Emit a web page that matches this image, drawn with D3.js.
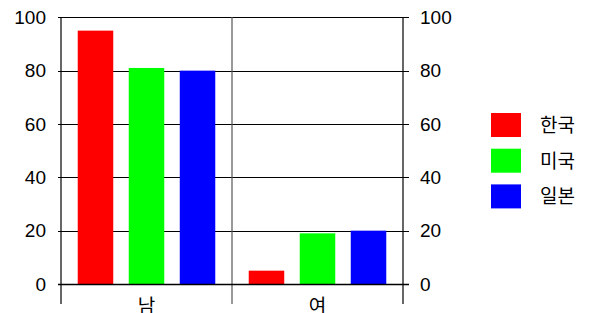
<html>
<head>
  <script src="https://d3js.org/d3.v7.min.js"></script>
  <meta charset="utf-8">
<style>
body { margin: 0; background: #fff; }
svg { background: #fff; font-family: "Liberation Sans", "Noto Sans CJK KR", sans-serif; }
</style>
</head>
<body>
<script>
var width = 596,
    height = 313;

// data
var categories = ['남', '여'];
var seriesNames = ['한국', '미국', '일본'];
var seriesColors = ['#ff0000', '#00ff00', '#0000ff'];
var korea = [95, 5];
var usa = [81, 19];
var japan = [80, 20];
var yTicks = [0, 20, 40, 60, 80, 100];

var values = [korea, usa, japan];

// plot edges (note: "top" is reserved on window)
var plotLeft = 61, plotRight = 403, plotTop = 17.3, plotBottom = 284;

var svg = d3.select('body').append('svg')
  .attr('width', width)
  .attr('height', height);

var x = d3.scaleBand().domain(categories).range([plotLeft, plotRight]);
var xs = d3.scaleBand().domain(seriesNames).range([0, x.bandwidth()])
  .paddingInner(0.304).paddingOuter(0.328);
var y = d3.scaleLinear().domain([0, 100]).range([plotBottom, plotTop]);

// horizontal grid lines with short ticks on both sides
svg.selectAll('line.grid')
  .data(yTicks)
  .enter().append('line')
  .attr('class', 'grid')
  .attr('x1', plotLeft - 3)
  .attr('x2', plotRight + 6)
  .attr('y1', function (d) { return Math.round(y(d)) + 0.5; })
  .attr('y2', function (d) { return Math.round(y(d)) + 0.5; })
  .style('stroke', '#000')
  .style('stroke-width', 1.2);

// vertical lines: left axis, separators
var vlines = [plotLeft, x('여'), plotRight];
svg.selectAll('line.v')
  .data(vlines)
  .enter().append('line')
  .attr('class', 'v')
  .attr('x1', function (d) { return d; })
  .attr('x2', function (d) { return d; })
  .attr('y1', Math.round(plotTop))
  .attr('y2', 304)
  .style('stroke', function (d, i) { return i === 1 ? '#555' : '#000'; })
  .style('stroke-width', 1.2);

// bars
var bars = [];
categories.forEach(function (c, ci) {
  seriesNames.forEach(function (s, si) {
    bars.push({ cat: c, series: s, value: values[si][ci], color: seriesColors[si] });
  });
});

svg.selectAll('rect.bar')
  .data(bars)
  .enter().append('rect')
  .attr('class', 'bar')
  .attr('x', function (d) { return x(d.cat) + xs(d.series); })
  .attr('width', xs.bandwidth())
  .attr('y', function (d) { return y(d.value); })
  .attr('height', function (d) { return y(0) - y(d.value); })
  .style('fill', function (d) { return d.color; });

// redraw the zero line on top
svg.append('line')
  .attr('x1', plotLeft - 3).attr('x2', plotRight + 6)
  .attr('y1', Math.round(y(0)) + 0.5).attr('y2', Math.round(y(0)) + 0.5)
  .style('stroke', '#000').style('stroke-width', 1.5);

// tick labels
svg.selectAll('text.yl')
  .data(yTicks)
  .enter().append('text')
  .attr('class', 'yl')
  .attr('x', 46)
  .attr('y', function (d) { return y(d); })
  .attr('dy', '0.35em')
  .attr('text-anchor', 'end')
  .style('font-size', '19px')
  .text(function (d) { return d; });

svg.selectAll('text.yr')
  .data(yTicks)
  .enter().append('text')
  .attr('class', 'yr')
  .attr('x', 420)
  .attr('y', function (d) { return y(d); })
  .attr('dy', '0.35em')
  .style('font-size', '19px')
  .text(function (d) { return d; });

// category labels
svg.selectAll('text.cat')
  .data(categories)
  .enter().append('text')
  .attr('class', 'cat')
  .attr('x', function (d) { return x(d) + x.bandwidth() / 2; })
  .attr('y', 313)
  .attr('text-anchor', 'middle')
  .style('font-size', '19px')
  .text(function (d) { return d; });

// legend
var legend = svg.selectAll('g.legend')
  .data(seriesNames)
  .enter().append('g')
  .attr('class', 'legend')
  .attr('transform', function (d, i) { return 'translate(491,' + (113 + i * 35.7) + ')'; });

legend.append('rect')
  .attr('width', 30)
  .attr('height', 24)
  .style('fill', function (d, i) { return seriesColors[i]; });

legend.append('text')
  .attr('x', 49)
  .attr('y', 12)
  .attr('dy', '0.36em')
  .style('font-size', '19px')
  .text(function (d) { return d; });
</script>
</body>
</html>
